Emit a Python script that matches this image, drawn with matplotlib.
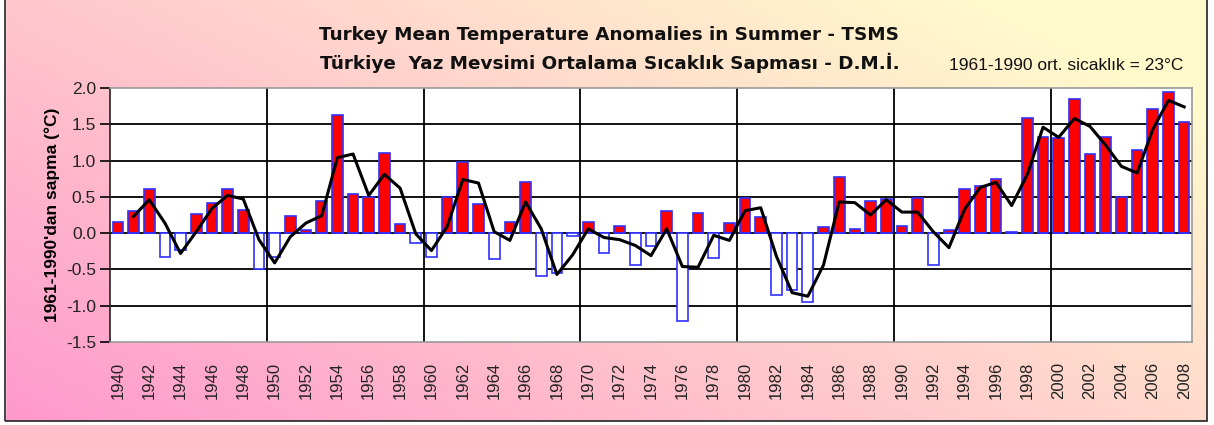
import numpy as np
import matplotlib.pyplot as plt
from matplotlib.patches import Rectangle

plt.rcParams['font.family'] = ['Liberation Sans', 'DejaVu Sans']

# yearly summer anomalies (°C)
years = list(range(1940, 2009))
anomaly = [0.16, 0.30, 0.61, -0.33, -0.23, 0.26, 0.42, 0.61, 0.32, -0.49,
           -0.33, 0.24, 0.04, 0.44, 1.63, 0.54, 0.50, 1.11, 0.12, -0.14,
           -0.33, 0.50, 0.98, 0.40, -0.36, 0.16, 0.70, -0.59, -0.55, -0.04,
           0.16, -0.28, 0.10, -0.44, -0.18, 0.30, -1.21, 0.28, -0.34, 0.14,
           0.48, 0.22, -0.85, -0.79, -0.95, 0.08, 0.77, 0.06, 0.44, 0.47,
           0.10, 0.48, -0.44, 0.04, 0.61, 0.65, 0.74, 0.02, 1.59, 1.33,
           1.31, 1.85, 1.09, 1.33, 0.50, 1.15, 1.71, 1.94, 1.53]

# smoothed line (1941-2008)
smooth_years = list(range(1941, 2009))
smooth = [0.23, 0.46, 0.14, -0.28, 0.02, 0.34, 0.52, 0.47, -0.09, -0.41,
          -0.05, 0.14, 0.24, 1.04, 1.09, 0.52, 0.81, 0.62, -0.01, -0.24,
          0.09, 0.74, 0.69, 0.02, -0.10, 0.43, 0.06, -0.57, -0.30, 0.06,
          -0.06, -0.09, -0.17, -0.31, 0.06, -0.46, -0.47, -0.03, -0.10, 0.31,
          0.35, -0.32, -0.82, -0.87, -0.44, 0.43, 0.42, 0.25, 0.46, 0.29,
          0.29, 0.02, -0.20, 0.33, 0.63, 0.70, 0.38, 0.81, 1.46, 1.32,
          1.58, 1.47, 1.21, 0.92, 0.83, 1.43, 1.83, 1.74]

fig = plt.figure(figsize=(12.14, 4.25), dpi=100)

# gradient background: pink bottom-left -> light yellow top-right
bg = fig.add_axes([0, 0, 1, 1], zorder=-10)
gx, gy = np.meshgrid(np.linspace(0, 1, 200), np.linspace(0, 1, 80))
t = np.clip((gx * 0.8 + gy * 0.55) / 1.2, 0, 1)
c0 = np.array([1.0, 0.60, 0.80])
c1 = np.array([1.0, 0.98, 0.80])
img = c0[None, None, :] * (1 - t[..., None]) + c1[None, None, :] * t[..., None]
bg.imshow(img, extent=[0, 1, 0, 1], origin='lower', aspect='auto')
bg.set_xlim(0, 1)
bg.set_ylim(0, 1)
bg.axis('off')
bg.add_patch(Rectangle((0, 0), 5 / 1214, 1, color='white', zorder=2))
bg.add_patch(Rectangle((1207 / 1214, 0), 1, 1, color='white', zorder=2))
bg.add_patch(Rectangle((0, 0), 1, 4 / 425, color='white', zorder=2))
bg.add_patch(Rectangle((5 / 1214, 4 / 425), 1202 / 1214, 1, fill=False,
                       edgecolor='#222222', lw=1.2, zorder=3))

ax = fig.add_axes([110 / 1214, 1 - 342 / 425, 1082 / 1214, 254 / 425])
ax.set_facecolor('white')

x = np.arange(len(years))
pos = [v if v >= 0 else 0 for v in anomaly]
neg = [v if v < 0 else 0 for v in anomaly]
ax.bar(x, pos, width=0.68, color='red', edgecolor='#3030ff', linewidth=1.2, zorder=3)
ax.bar(x, neg, width=0.68, color='white', edgecolor='#3030ff', linewidth=1.2, zorder=3)

sx = [years.index(y) for y in smooth_years]
ax.plot(sx, smooth, color='black', lw=2.2, zorder=4)

ax.set_xlim(-0.5, len(years) - 0.5)
ax.set_ylim(-1.5, 2.0)
yt = np.arange(-1.5, 2.01, 0.5)
ax.set_yticks(yt)
ax.set_yticklabels([f'{v:.1f}' for v in yt], fontsize=12.5, color='#222222')
for v in np.arange(-1.0, 2.0, 0.5):
    ax.axhline(v, color='black', lw=1.3, zorder=1)
for i in range(9, len(years) - 1, 10):
    ax.axvline(i + 0.5, color='black', lw=1.3, zorder=1)

ax.set_xticks(x[::2])
ax.set_xticklabels([str(y) for y in years[::2]], rotation=90, fontsize=12, color='#222222')
ax.tick_params(axis='x', length=0, pad=14)
ax.tick_params(axis='y', length=7, width=1.2, direction='out', pad=3)
for s in ax.spines.values():
    s.set_color('#999999')
    s.set_linewidth(1.2)
ax.spines['left'].set_color('#222222')

ax.set_ylabel("1961-1990'dan sapma (°C)", fontsize=12.5, fontweight='bold', labelpad=4)

fig.text(0.502, 1 - 35 / 425, 'Turkey Mean Temperature Anomalies in Summer - TSMS',
         ha='center', va='center', fontsize=13.2, fontweight='bold', color='#111111',
         family='DejaVu Sans')
fig.text(0.502, 1 - 63 / 425, 'Türkiye  Yaz Mevsimi Ortalama Sıcaklık Sapması - D.M.İ.',
         ha='center', va='center', fontsize=13.2, fontweight='bold', color='#111111',
         family='DejaVu Sans')
fig.text(1183 / 1214, 1 - 66 / 425, '1961-1990 ort. sicaklık = 23°C',
         ha='right', va='center', fontsize=12.5, color='#111111')

fig.savefig('out.png', dpi=100)
